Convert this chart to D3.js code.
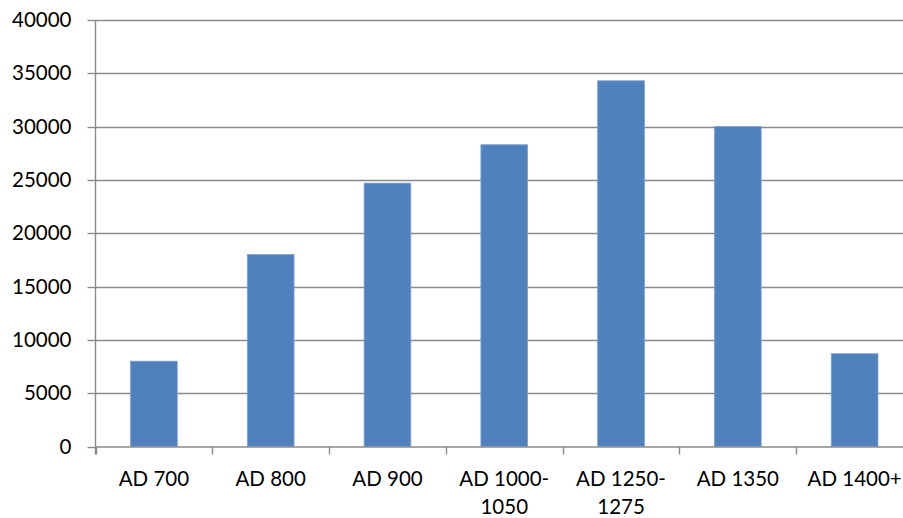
<!DOCTYPE html>
<html>
<head>
<meta charset="utf-8">
<script src="https://cdn.jsdelivr.net/npm/d3@7"></script>
<style>
  html, body { margin: 0; padding: 0; background: #fff; }
  svg { display: block; }
  text { font-family: Lato, "Open Sans", sans-serif; fill: #000; }
</style>
</head>
<body>
<svg id="chart" width="903" height="518"></svg>
<script>
const categories = [["AD 700"], ["AD 800"], ["AD 900"], ["AD 1000-", "1050"], ["AD 1250-", "1275"], ["AD 1350"], ["AD 1400+"]];
const values = [8000, 18000, 24700, 28300, 34300, 30000, 8700];
const yTicks = [0, 5000, 10000, 15000, 20000, 25000, 30000, 35000, 40000];

(function () {
const svg = d3.select("#chart");
const mLeft = 95.5, mRight = 913, mTop = 20, mBottom = 446.5;
const keys = categories.map(c => c.join(" "));

const x = d3.scaleBand().domain(keys).range([mLeft, mRight]).paddingInner(0.6).paddingOuter(0.3);
const y = d3.scaleLinear().domain([0, 40000]).range([mBottom, mTop]);

const gridColor = "#8a8a8a";

// gridlines
svg.append("g").selectAll("line").data(yTicks.filter(t => t > 0)).join("line")
  .attr("x1", mLeft).attr("x2", 903)
  .attr("y1", d => Math.round(y(d)) + 0.5).attr("y2", d => Math.round(y(d)) + 0.5)
  .attr("stroke", gridColor).attr("stroke-width", 1.4);

// y axis
const yAxis = svg.append("g").attr("transform", `translate(${mLeft},0)`)
  .call(d3.axisLeft(y).tickValues(yTicks).tickSize(8).tickPadding(16).tickFormat(d3.format("d")));
yAxis.select(".domain").remove();
yAxis.selectAll(".tick line").attr("stroke", gridColor).attr("stroke-width", 1.4);
yAxis.selectAll(".tick").attr("transform", d => `translate(0,${Math.round(y(d)) + 0.5})`);
yAxis.selectAll(".tick text").style("font-size", "20.5px").attr("font-family", null).attr("fill", "#000");
yAxis.append("line").attr("x1", 0).attr("x2", 0).attr("y1", mTop).attr("y2", mBottom + 8)
  .attr("stroke", gridColor).attr("stroke-width", 1.4);

// bars
svg.append("g").selectAll("rect").data(values).join("rect")
  .attr("x", (d, i) => x(keys[i]))
  .attr("width", x.bandwidth())
  .attr("y", d => y(d))
  .attr("height", d => mBottom - y(d))
  .attr("fill", "#4f81bd")
  .attr("stroke", "#7ea1cf").attr("stroke-width", 0.8);

// x axis
const step = x.step();
const boundaries = d3.range(keys.length + 1).map(i => mLeft + i * step);
svg.append("line").attr("x1", mLeft).attr("x2", 903).attr("y1", mBottom + 0.5).attr("y2", mBottom + 0.5)
  .attr("stroke", gridColor).attr("stroke-width", 1.4);
svg.append("g").selectAll("line").data(boundaries).join("line")
  .attr("x1", d => Math.round(d) + 0.5).attr("x2", d => Math.round(d) + 0.5)
  .attr("y1", mBottom).attr("y2", mBottom + 8)
  .attr("stroke", gridColor).attr("stroke-width", 1.4);

// category labels
const lab = svg.append("g").selectAll("text").data(categories).join("text")
  .attr("text-anchor", "middle")
  .style("font-size", "20.5px")
  .attr("transform", (d, i) => `translate(${x(keys[i]) + x.bandwidth() / 2},486)`);
lab.selectAll("tspan").data(d => d).join("tspan")
  .attr("x", 0).attr("y", (d, i) => i * 28)
  .text(d => d);
})();
</script>
</body>
</html>
